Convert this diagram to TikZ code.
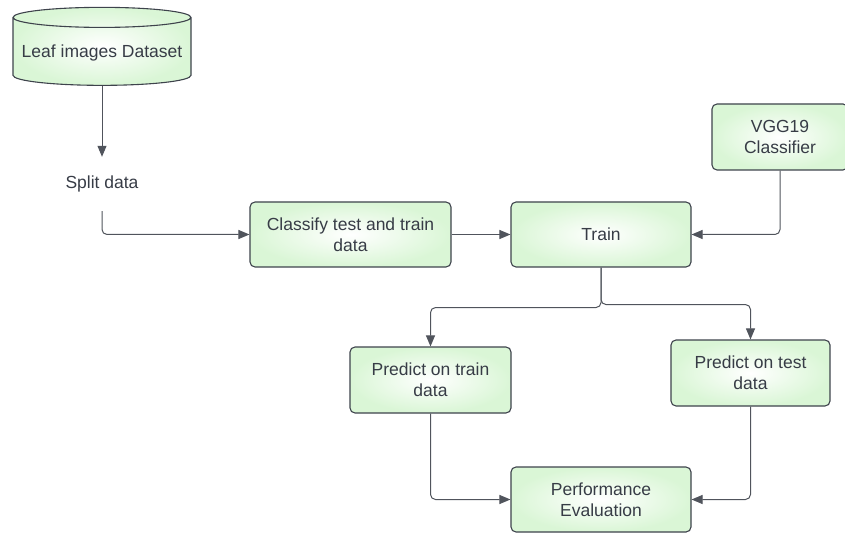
\documentclass[tikz,border=0pt]{standalone}
\usepackage{fontspec}
\setmainfont{Liberation Sans}
\usetikzlibrary{arrows.meta, positioning, shapes.geometric}
\definecolor{boxgreen}{RGB}{218,246,214}
\definecolor{edgecol}{RGB}{62,67,76}
\definecolor{linecol}{RGB}{80,84,92}
\definecolor{textcol}{RGB}{55,60,70}

\begin{document}
\begin{tikzpicture}[x=1pt, y=-1pt,
    font=\fontsize{17.5}{21}\selectfont, text=textcol,
    procbox/.style={draw=edgecol, line width=1.1pt, rounded corners=5pt,
                    inner color=white, outer color=boxgreen,
                    minimum height=65pt, align=center, inner sep=2pt},
    datacyl/.style={cylinder, shape border rotate=90, aspect=0.12,
                    draw=edgecol, line width=1.1pt,
                    inner color=white, outer color=boxgreen,
                    minimum width=178pt, minimum height=78pt},
    conn/.style={draw=linecol, line width=1pt, rounded corners=5pt,
                 -{Triangle[length=11pt,width=9pt]}}]
  \useasboundingbox (0,0) rectangle (845,534);

  % data source
  \node[datacyl] (dataset) at (102,53) {Leaf images Dataset};
  \node[minimum height=54pt, inner sep=0pt] (split) at (102,184) {Split data};

  % training row
  \node[procbox, minimum width=201pt] (classify) at (350.5,234.5)
    {Classify test and train\\data};
  \node[procbox, minimum width=180pt] (train) at (601,234.5) {Train};
  \node[procbox, minimum width=136pt, minimum height=66pt] (vgg) at (780,137)
    {VGG19\\Classifier};

  % prediction
  \node[procbox, minimum width=161pt, minimum height=66pt] (ptrain) at (430.5,380)
    {Predict on train\\data};
  \node[procbox, minimum width=159pt, minimum height=66pt] (ptest) at (750.5,373)
    {Predict on test\\data};
  \node[procbox, minimum width=180pt] (perf) at (601,499.5)
    {Performance\\Evaluation};

  % connectors
  \draw[conn] (dataset.south) -- (split.north);
  \draw[conn] (split.south) |- (classify.west);
  \draw[conn] (classify.east) -- (train.west);
  \draw[conn] (vgg.south) |- (train.east);
  \draw[conn] (train.south) -- ++(0,40) -| (ptrain.north);
  \draw[conn] (train.south) -- ++(0,37) -| (ptest.north);
  \draw[conn] (ptrain.south) |- (perf.west);
  \draw[conn] (ptest.south) |- (perf.east);
\end{tikzpicture}
\end{document}
